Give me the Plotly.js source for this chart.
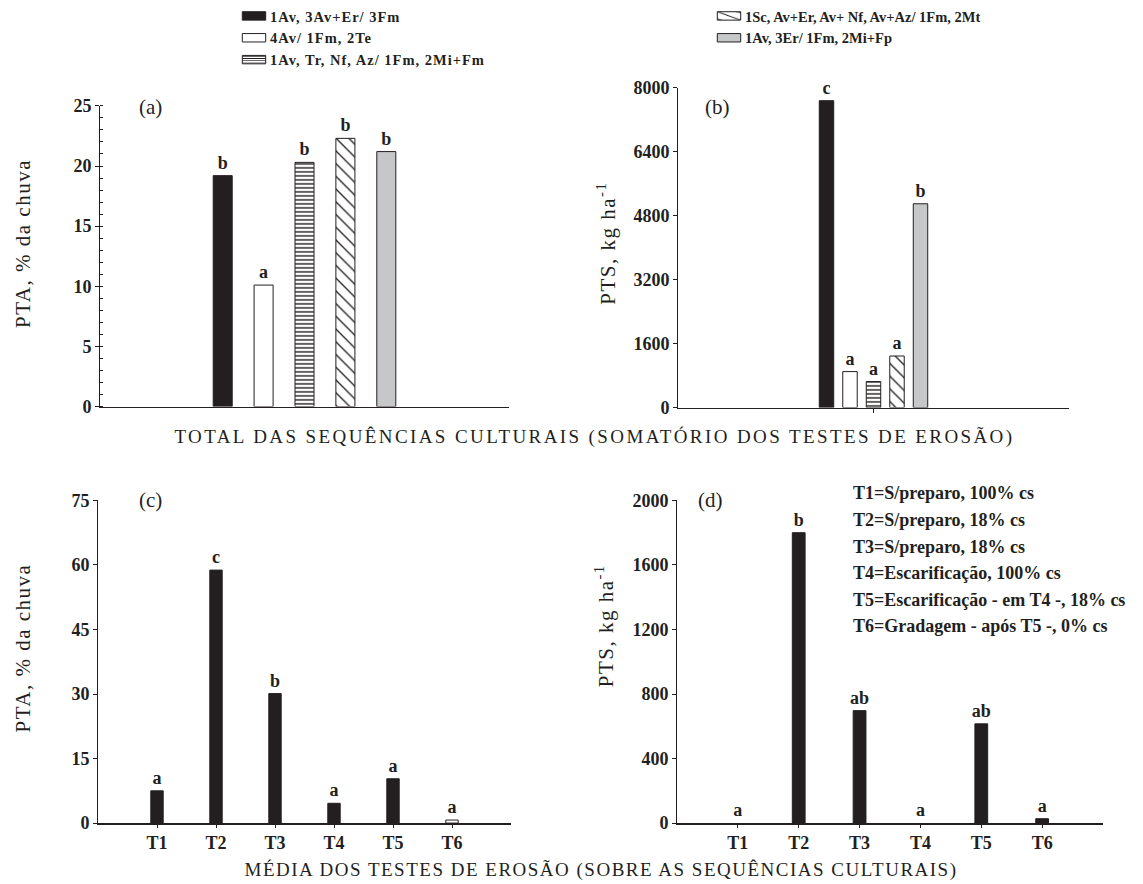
<!DOCTYPE html>
<html>
<head>
<meta charset="utf-8">
<script src="https://cdn.plot.ly/plotly-3.0.1.min.js"></script>
<style>
html,body{margin:0;padding:0;background:#fff;}
#chart{width:1143px;height:884px;}
g.annotation[data-index="4"] text, g.annotation[data-index="5"] text,
g.annotation[data-index="6"] text, g.annotation[data-index="7"] text{letter-spacing:1.5px;}
g.annotation[data-index="8"] text{letter-spacing:2.4px;}
g.annotation[data-index="9"] text{letter-spacing:1.5px;}
g.legendpoints path{transform-box:fill-box;transform-origin:center;transform:translateX(24px) scale(1.95,0.7);vector-effect:non-scaling-stroke;}
text.legendtext{letter-spacing:1px;}
</style>
</head>
<body>
<div id="chart"></div>
<script>
// ---------- DATA ----------
const sequenceNames = [
  "1Av, 3Av+Er/ 3Fm",
  "4Av/ 1Fm, 2Te",
  "1Av, Tr, Nf, Az/ 1Fm, 2Mi+Fm",
  "1Sc, Av+Er, Av+ Nf, Av+Az/ 1Fm, 2Mt",
  "1Av, 3Er/ 1Fm, 2Mi+Fp"
];
const ptaTotal = [19.2, 10.1, 20.3, 22.3, 21.2];        // panel (a)
const ptaTotalLetters = ["b", "a", "b", "b", "b"];
const ptsTotal = [7680, 900, 650, 1290, 5100];           // panel (b)
const ptsTotalLetters = ["c", "a", "a", "a", "b"];

const tests = ["T1", "T2", "T3", "T4", "T5", "T6"];
const ptaTests = [7.5, 58.8, 30.1, 4.6, 10.3, 0.7];      // panel (c)
const ptaTestsLetters = ["a", "c", "b", "a", "a", "a"];
const ptsTests = [0, 1800, 697, 0, 615, 27];             // panel (d)
const ptsTestsLetters = ["a", "b", "ab", "a", "ab", "a"];

const testDefinitions = [
  "T1=S/preparo, 100% cs",
  "T2=S/preparo, 18% cs",
  "T3=S/preparo, 18% cs",
  "T4=Escarificação, 100% cs",
  "T5=Escarificação - em T4 -, 18% cs",
  "T6=Gradagem - após T5 -, 0% cs"
];

// ---------- STYLE ----------
const FONT = '"Liberation Serif", "Times New Roman", serif';
const INK = "#231f20";
const W = 1143, H = 884;
const px = v => v / W;
const py = v => (H - v) / H;

const seqStyles = [
  {color: INK},
  {color: "#ffffff"},
  {color: "#ffffff", pattern: {shape: "-", fgcolor: INK, bgcolor: "#ffffff", size: 4, solidity: 0.35}},
  {color: "#ffffff", pattern: {shape: "\\", fgcolor: INK, bgcolor: "#ffffff", size: 9, solidity: 0.15}},
  {color: "#c6c7c9"}
];
const legendOf = ["legend", "legend", "legend", "legend2", "legend2"];

const textFont = {family: FONT, size: 18, weight: "bold", color: INK};
const traces = [];

sequenceNames.forEach((name, i) => {
  const marker = Object.assign({line: {color: INK, width: 1}}, seqStyles[i]);
  traces.push({
    type: "bar", x: [0], y: [ptaTotal[i]], name: name, xaxis: "x", yaxis: "y",
    width: 0.093, marker: marker, text: [ptaTotalLetters[i]], textposition: "outside",
    constraintext: "none", cliponaxis: false, textfont: textFont,
    legendgroup: "g" + i, legend: legendOf[i], hoverinfo: "skip"
  });
});
sequenceNames.forEach((name, i) => {
  const marker = Object.assign({line: {color: INK, width: 1}}, seqStyles[i]);
  traces.push({
    type: "bar", x: [0], y: [ptsTotal[i]], name: name, xaxis: "x2", yaxis: "y2",
    width: 0.123, marker: marker, text: [ptsTotalLetters[i]], textposition: "outside",
    constraintext: "none", cliponaxis: false, textfont: textFont,
    legendgroup: "g" + i, legend: legendOf[i], showlegend: false, hoverinfo: "skip"
  });
});
traces.push({
  type: "bar", x: tests, y: ptaTests, xaxis: "x3", yaxis: "y3", width: 0.21,
  marker: {color: ptaTests.map((v, i) => i === 5 ? "#ffffff" : INK), line: {color: INK, width: 1}},
  text: ptaTestsLetters, textposition: "outside", constraintext: "none", cliponaxis: false,
  textfont: textFont, showlegend: false, hoverinfo: "skip"
});
traces.push({
  type: "bar", x: tests, y: ptsTests, xaxis: "x4", yaxis: "y4", width: 0.21,
  marker: {color: INK, line: {color: INK, width: ptsTests.map(v => v > 0 ? 1 : 0)}},
  text: ptsTestsLetters, textposition: "outside", constraintext: "none", cliponaxis: false,
  textfont: textFont, showlegend: false, hoverinfo: "skip"
});

const tickFont = {family: FONT, size: 18, weight: "bold", color: INK};
const xBase = {showline: true, linecolor: INK, linewidth: 1.5, showgrid: false, zeroline: false, fixedrange: true};
const yBase = {showline: true, linecolor: INK, linewidth: 1, showgrid: false, zeroline: false,
  ticks: "outside", ticklen: 4, tickcolor: INK, tickfont: tickFont, fixedrange: true};

const annotations = [];
function ann(text, x, y, opts) {
  annotations.push(Object.assign({text: text, x: px(x), y: py(y), xref: "paper", yref: "paper",
    xanchor: "center", yanchor: "middle", showarrow: false,
    font: {family: FONT, size: 21, color: INK}}, opts || {}));
}
const yTitleFont = {family: FONT, size: 21, color: INK};
ann("(a)", 150, 106);                                                   // 0
ann("(b)", 718, 106);                                                   // 1
ann("(c)", 150, 500);                                                   // 2
ann("(d)", 710, 500);                                                   // 3
ann("PTA, % da chuva", 23, 243, {textangle: -90, font: yTitleFont});     // 4
ann("PTS, kg ha<sup>-1</sup>", 607, 243, {textangle: -90, font: yTitleFont}); // 5
ann("PTA, % da chuva", 23, 648, {textangle: -90, font: yTitleFont});     // 6
ann("PTS, kg ha<sup>-1</sup>", 604, 626, {textangle: -90, font: yTitleFont}); // 7
ann("TOTAL DAS SEQUÊNCIAS CULTURAIS (SOMATÓRIO DOS TESTES DE EROSÃO)", 594, 436, {font: {family: FONT, size: 19, color: INK}}); // 8
ann("MÉDIA DOS TESTES DE EROSÃO (SOBRE AS SEQUÊNCIAS CULTURAIS)", 601, 870, {font: {family: FONT, size: 19, color: INK}});     // 9
const defY = [493, 520, 547, 573, 600, 626];
testDefinitions.forEach((t, i) => ann(t, 851, defY[i], {xanchor: "left", font: {family: FONT, size: 18, weight: "bold", color: INK}}));

const legendFont = {family: FONT, size: 14.5, weight: "bold", color: INK};
const layout = {
  width: W, height: H, margin: {l: 0, r: 0, t: 0, b: 0},
  paper_bgcolor: "#fff", plot_bgcolor: "rgba(0,0,0,0)",
  font: {family: FONT, color: INK},
  barmode: "group", bargap: 0, bargroupgap: 0,
  showlegend: true,
  legend: {orientation: "v", x: px(230), y: py(-1), xanchor: "left", yanchor: "top", font: legendFont,
    bgcolor: "rgba(0,0,0,0)", itemclick: false, itemdoubleclick: false, tracegroupgap: 0},
  legend2: {orientation: "v", x: px(705), y: py(-1), xanchor: "left", yanchor: "top", font: legendFont,
    bgcolor: "rgba(0,0,0,0)", itemclick: false, itemdoubleclick: false, tracegroupgap: 0},
  xaxis: Object.assign({}, xBase, {domain: [px(100), px(509)], anchor: "y", range: [-1, 1], showticklabels: false, ticks: ""}),
  yaxis: Object.assign({}, yBase, {domain: [py(406), py(105)], anchor: "x", range: [0, 25], dtick: 5,
    minor: {dtick: 1, ticks: "inside", ticklen: 3, tickcolor: INK, showgrid: false}}),
  xaxis2: Object.assign({}, xBase, {domain: [px(678), px(1069)], anchor: "y2", range: [-1.664, 1.664],
    tickvals: [0], showticklabels: false, ticks: "outside", ticklen: 4, tickcolor: INK}),
  yaxis2: Object.assign({}, yBase, {domain: [py(407), py(87)], anchor: "x2", range: [0, 8000], dtick: 1600}),
  xaxis3: Object.assign({}, xBase, {domain: [px(98), px(511)], anchor: "y3", type: "category", range: [-1, 6],
    ticks: "outside", ticklen: 3, tickcolor: INK, tickfont: tickFont}),
  yaxis3: Object.assign({}, yBase, {domain: [py(823), py(500)], anchor: "x3", range: [0, 75], dtick: 15}),
  xaxis4: Object.assign({}, xBase, {domain: [px(677), px(1103)], anchor: "y4", type: "category", range: [-1, 6],
    ticks: "outside", ticklen: 3, tickcolor: INK, tickfont: tickFont}),
  yaxis4: Object.assign({}, yBase, {domain: [py(823), py(500)], anchor: "x4", range: [0, 2000], dtick: 400}),
  annotations: annotations
};

Plotly.newPlot("chart", traces, layout, {displayModeBar: false, staticPlot: true});
</script>
</body>
</html>
